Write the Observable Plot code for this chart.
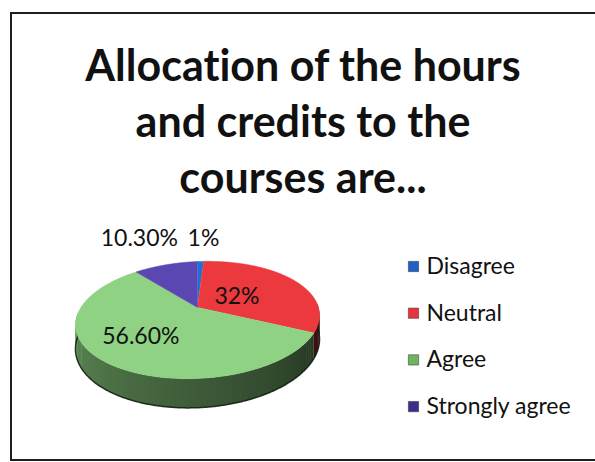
<!DOCTYPE html>
<html>
<head>
<meta charset="utf-8">
<script src="https://cdn.jsdelivr.net/npm/d3@7"></script>
<script src="https://cdn.jsdelivr.net/npm/@observablehq/plot@0.6"></script>
<style>
  html, body { margin: 0; padding: 0; background: #fff; }
  #chart svg { display: block; }
  #chart svg text { font-variant-ligatures: none; font-feature-settings: "liga" 0; }
</style>
</head>
<body>
<div id="chart"></div>
<script>
// ---- data ----
const titleLines = ["Allocation of the hours", "and credits to the", "courses are..."];
const categories = ["Disagree", "Neutral", "Agree", "Strongly agree"];
const values = [1, 32, 56.6, 10.3];
const labels = ["1%", "32%", "56.60%", "10.30%"];
const colors = ["#1f6fd6", "#ec393e", "#8fd283", "#5a47b2"];
const legendColors = ["#1f5fc8", "#e8323c", "#6fb35e", "#3a2d8e"];

// ---- geometry helpers (perspective pie in plot coordinates, y downward) ----
const W = 595, H = 462;
const cx = 197, cy = 307;      // projected pie centre
const A = 119.2, B = 55.8, k = 0.2136, depth = 23, tilt = 0.04;
const total = d3.sum(values);
function pt(deg, down = 0) {
  const a = deg * Math.PI / 180;
  const X = Math.sin(a), Z = Math.cos(a);
  const den = 1 + k * Z;
  const x = cx + A * X / den;
  const y = cy - B * Z / den + down / den - tilt * (x - cx);
  return [x, y];
}
let acc = 0;
const slices = categories.map((k2, i) => {
  const a0 = acc / total * 360;
  acc += values[i];
  const a1 = acc / total * 360;
  return {key: k2, i, a0, a1, mid: (a0 + a1) / 2, label: labels[i], value: values[i]};
});

const topPts = [], sideQuads = [];
let q = 0;
for (const s of slices) {
  topPts.push({key: s.key, x: cx, y: cy});
  const steps = Math.max(2, Math.ceil((s.a1 - s.a0) / 0.5));
  for (let j = 0; j <= steps; j++) {
    const [x, y] = pt(s.a0 + (s.a1 - s.a0) * j / steps); topPts.push({key: s.key, x, y});
  }
  // visible side (front half), shaded in thin overlapping strips
  const b0 = Math.max(s.a0, 90), b1 = Math.min(s.a1, 270);
  if (b1 > b0) {
    const n = Math.max(1, Math.ceil((b1 - b0) / 2));
    for (let j = 0; j < n; j++) {
      const t0 = b0 + (b1 - b0) * j / n;
      const t1 = Math.min(b1, b0 + (b1 - b0) * (j + 1) / n + 0.6);
      const tm = b0 + (b1 - b0) * (j + 0.5) / n;
      const f = Math.max(0, Math.min(1, (270 - tm) / 160));
      const shade = 0.3 + 0.45 * Math.pow(f, 0.9);
      const col = d3.interpolateRgb(colors[s.i], "#000")(shade);
      const p = [pt(t0), pt(t1), pt(t1, depth), pt(t0, depth)];
      for (const [x, y] of p) sideQuads.push({q, x, y, col});
      q++;
    }
  }
}
// front rim outline
const rimPts = d3.range(90, 270.01, 0.5).map(a => { const [x, y] = pt(a, depth); return {x, y}; });

// label positions
const labelData = slices.map(s => {
  const a = s.mid * Math.PI / 180;
  const sn = Math.sin(a);
  if (s.value > 20) {
    const [x, y] = pt(s.mid);
    return {label: s.label, x: cx + (x - cx) * 0.48 - (sn < 0 ? 12 : 6), y: cy + (y - cy) * 0.48 + 3, side: "in"};
  }
  const [x] = pt(s.mid);
  const [, yt] = pt(0);
  return {label: s.label, x: x + (sn < 0 ? 12 : -13), y: yt - 23, side: sn < 0 ? "left" : "right"};
});

const legendData = categories.map((k2, i) => ({key: k2, i}));
const titleData = titleLines.map((t, i) => ({t, i}));

const chart = Plot.plot({
  width: W, height: H,
  margin: 0,
  x: {domain: [0, W], range: [0, W], axis: null},
  y: {domain: [0, H], range: [0, H], axis: null},
  color: {domain: categories, range: colors},
  style: {fontFamily: "Lato, sans-serif", background: "#fff"},
  marks: [
    // frame
    Plot.rect([0], {x1: () => 11, x2: () => 603, y1: () => 13, y2: () => 460, fill: "none", stroke: "#1e1e1e", strokeWidth: 2}),
    // title
    Plot.text(titleData, {x: () => W / 2 + 5, y: d => 80.5 + d.i * 56, text: "t", fontSize: 43, fontWeight: "bold", fill: "#111", textAnchor: "middle", lineAnchor: "bottom"}),
    // pie sides
    Plot.line(sideQuads, {x: "x", y: "y", z: "q", fill: "col", stroke: "none"}),
    Plot.line(rimPts, {x: "x", y: "y", stroke: "#0d1a0a", strokeWidth: 1.5, strokeOpacity: 0.85}),
    // pie top
    Plot.line(topPts, {x: "x", y: "y", z: "key", fill: "key", stroke: "key", strokeWidth: 0.5}),
    // labels
    Plot.text(labelData.filter(d => d.side === "in"), {x: "x", y: "y", text: "label", textAnchor: "middle", fontSize: 23, fill: "#111"}),
    Plot.text(labelData.filter(d => d.side === "left"), {x: "x", y: "y", text: "label", textAnchor: "end", fontSize: 23, fill: "#111"}),
    Plot.text(labelData.filter(d => d.side === "right"), {x: "x", y: "y", text: "label", textAnchor: "start", fontSize: 23, fill: "#111"}),
    // legend
    Plot.dot(legendData, {x: () => 413, y: d => 266 + d.i * 46.7, symbol: "square", r: 5.8, fill: d => legendColors[d.i], stroke: "#333", strokeWidth: 0.5}),
    Plot.text(legendData, {x: () => 426, y: d => 266 + d.i * 46.7, text: "key", textAnchor: "start", fontSize: 23, fill: "#111"})
  ]
});
document.getElementById("chart").appendChild(chart);
</script>
</body>
</html>
